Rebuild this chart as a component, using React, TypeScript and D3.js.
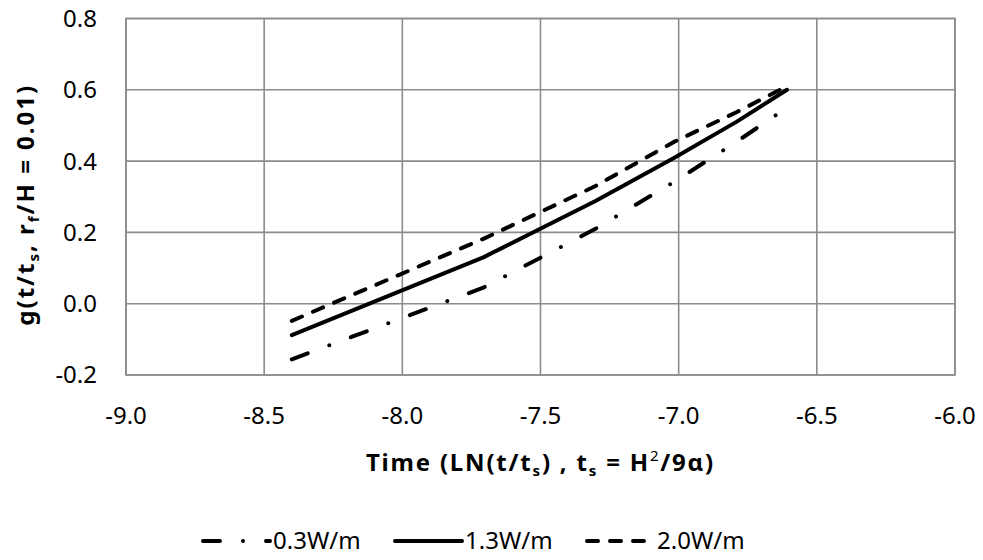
import React from "react";
import * as d3 from "d3";

const xValues = [-8.4, -7.707, -7.301, -7.014, -6.791, -6.608];
const series03 = [-0.156, 0.045, 0.21, 0.343, 0.454, 0.55];
const series13 = [-0.088, 0.13, 0.288, 0.41, 0.51, 0.6];
const series20 = [-0.048, 0.182, 0.33, 0.455, 0.537, 0.61];
const seriesNames = ["0.3W/m", "1.3W/m", "2.0W/m"];
const xTicks = [-9.0, -8.5, -8.0, -7.5, -7.0, -6.5, -6.0];
const yTicks = [-0.2, 0.0, 0.2, 0.4, 0.6, 0.8];

const W = 983;
const H = 560;
const PL = 126, PR = 955, PT = 18.5, PB = 375;
const FONT = "'Noto Sans', 'Open Sans', sans-serif";
const FS = 24;
const SUB = 15;
const LW = 4;
const dashes = ["17 23 0.01 23", "", "11 12"];

export default function App() {
  const x = d3.scaleLinear().domain([-9, -6]).range([PL, PR]);
  const y = d3.scaleLinear().domain([-0.2, 0.8]).range([PB, PT]);
  const all = [series03, series13, series20];
  const line = d3
    .line<number>()
    .x((_, i) => x(xValues[i]))
    .y((d) => y(d));
  const fmt = (v: number) => v.toFixed(1);
  const legendX = [203, 395, 587];
  const sampleLen = 67;
  const legendY = 541;

  return (
    <svg width={W} height={H} style={{ display: "block", position: "absolute", left: 0, top: 0 }}>
      <rect x={0} y={0} width={W} height={H} fill="#fff" />
      {xTicks.map((t) => (
        <line key={"gx" + t} x1={x(t)} x2={x(t)} y1={PT} y2={PB} stroke="#8c8c8c" strokeWidth={1.6} />
      ))}
      {yTicks.map((t) => (
        <line key={"gy" + t} x1={PL} x2={PR} y1={y(t)} y2={y(t)} stroke="#8c8c8c" strokeWidth={1.6} />
      ))}
      <rect x={PL} y={PT} width={PR - PL} height={PB - PT} fill="none" stroke="#8c8c8c" strokeWidth={1.6} />
      {yTicks.map((t) => (
        <text key={"ly" + t} x={97} y={y(t)} dy="0.35em" textAnchor="end" fontFamily={FONT} fontSize={FS} fill="#000">
          {fmt(t)}
        </text>
      ))}
      {xTicks.map((t) => (
        <text key={"lx" + t} x={x(t)} y={416} dy="0.35em" textAnchor="middle" fontFamily={FONT} fontSize={FS} fill="#000">
          {fmt(t)}
        </text>
      ))}
      {all.map((s, i) => (
        <path
          key={"s" + i}
          d={line(s) || ""}
          fill="none"
          stroke="#000"
          strokeWidth={LW}
          strokeLinecap="round"
          strokeLinejoin="round"
          strokeDasharray={dashes[i] || undefined}
        />
      ))}
      <text x={(PL + PR) / 2} y={471} textAnchor="middle" fontFamily={FONT} fontSize={FS} fontWeight="bold" letterSpacing={1.8} fill="#000">
        <tspan>Time (LN(t/t</tspan>
        <tspan fontSize={SUB} dy={5}>s</tspan>
        <tspan dy={-5}>) , t</tspan>
        <tspan fontSize={SUB} dy={5}>s</tspan>
        <tspan dy={-5}> = H</tspan>
        <tspan fontSize={SUB} fontWeight="normal" dy={-10}>2</tspan>
        <tspan dy={10}>/9α)</tspan>
      </text>
      <text
        transform={`translate(34,${(PT + PB) / 2 + 8}) rotate(-90)`}
        textAnchor="middle"
        fontFamily={FONT}
        fontSize={FS}
        fontWeight="bold"
        letterSpacing={2}
        fill="#000"
      >
        <tspan>g(t/t</tspan>
        <tspan fontSize={SUB} dy={5}>s</tspan>
        <tspan dy={-5}>, r</tspan>
        <tspan fontSize={SUB} dy={5}>f</tspan>
        <tspan dy={-5}>/H = 0.01)</tspan>
      </text>
      {seriesNames.map((n, i) => (
        <g key={"lg" + i}>
          <line
            x1={legendX[i]}
            x2={legendX[i] + sampleLen}
            y1={legendY}
            y2={legendY}
            stroke="#000"
            strokeWidth={LW}
            strokeLinecap="round"
            strokeDasharray={dashes[i] || undefined}
          />
          <text x={legendX[i] + sampleLen + 3} y={legendY} dy="0.35em" fontFamily={FONT} fontSize={FS} fill="#000">
            {n}
          </text>
        </g>
      ))}
    </svg>
  );
}
